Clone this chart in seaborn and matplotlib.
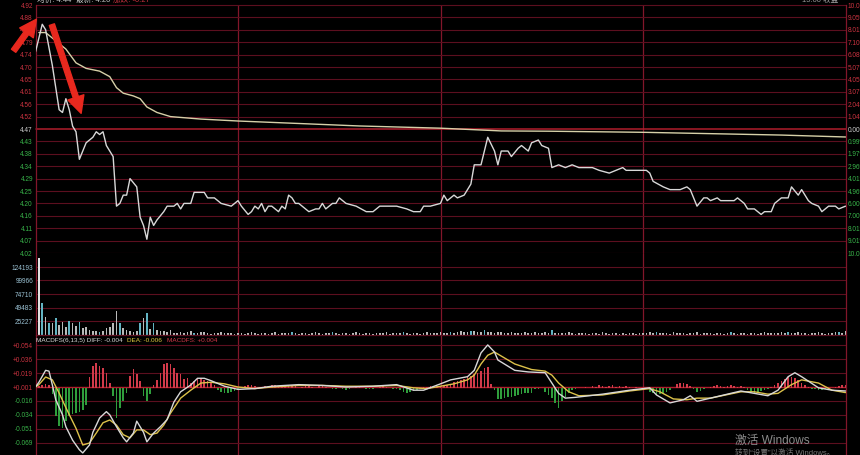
import numpy as np
import matplotlib
matplotlib.use("Agg")
import matplotlib.pyplot as plt
import seaborn as sns

# ---------------- data ----------------
prev_close = 4.47
limit_up = 4.92

# intraday price line (minute index from 9:30, price)
price_min = [0, 2, 3, 5, 7, 8, 9, 10, 11, 12, 13, 15, 17, 18, 19, 20, 21, 23, 24, 25,
             26, 27, 28, 30, 31, 32, 33, 34, 35, 36, 38, 39, 41, 42, 43, 44, 46, 47, 49, 50,
             51, 53, 55, 58, 60, 61, 63, 64, 65, 66, 67, 68, 69, 70, 72, 73, 74, 75, 76, 77,
             78, 81, 83, 84, 85, 86, 88, 89, 90, 92, 95, 98, 100, 102, 105, 107, 110, 112, 114, 115,
             117, 120, 121, 122, 124, 125, 127, 129, 130, 132, 134, 136, 137, 138, 140, 141, 143, 144, 146, 147,
             149, 150, 152, 153, 155, 157, 159, 161, 165, 167, 170, 172, 174, 175, 181, 182, 183, 186, 188, 191,
             193, 194, 196, 198, 199, 200, 202, 203, 207, 208, 210, 211, 213, 214, 215, 216, 218, 219, 221, 223,
             224, 226, 227, 229, 230, 232, 233, 235, 237, 238, 240]
price = [4.75, 4.85, 4.83, 4.70, 4.54, 4.53, 4.58, 4.54, 4.48, 4.46, 4.36, 4.42, 4.44, 4.46, 4.45, 4.46, 4.41, 4.37, 4.19, 4.20,
         4.23, 4.23, 4.29, 4.26, 4.15, 4.12, 4.07, 4.15, 4.12, 4.14, 4.17, 4.19, 4.19, 4.20, 4.18, 4.20, 4.20, 4.24, 4.24, 4.24,
         4.22, 4.22, 4.20, 4.19, 4.21, 4.19, 4.16, 4.17, 4.19, 4.18, 4.20, 4.17, 4.19, 4.19, 4.17, 4.19, 4.18, 4.23, 4.22, 4.20,
         4.20, 4.17, 4.18, 4.18, 4.20, 4.18, 4.20, 4.20, 4.22, 4.20, 4.19, 4.17, 4.17, 4.19, 4.19, 4.19, 4.18, 4.17, 4.17, 4.19,
         4.19, 4.20, 4.23, 4.21, 4.23, 4.22, 4.23, 4.27, 4.34, 4.34, 4.44, 4.39, 4.34, 4.39, 4.39, 4.37, 4.40, 4.41, 4.39, 4.42,
         4.43, 4.41, 4.40, 4.33, 4.34, 4.33, 4.34, 4.33, 4.33, 4.32, 4.31, 4.32, 4.33, 4.32, 4.32, 4.31, 4.28, 4.26, 4.25, 4.25,
         4.26, 4.25, 4.19, 4.22, 4.22, 4.21, 4.22, 4.21, 4.21, 4.22, 4.20, 4.18, 4.18, 4.17, 4.16, 4.17, 4.17, 4.20, 4.22, 4.22,
         4.26, 4.23, 4.25, 4.21, 4.20, 4.19, 4.17, 4.19, 4.19, 4.18, 4.19]

# average price line
avg_min = [1, 3, 6, 9, 12, 15, 19, 22, 24, 26, 29, 31, 33, 36, 40, 45, 49, 60, 96, 120, 138, 152, 180, 221, 240]
avg_price = [4.82, 4.82, 4.79, 4.76, 4.71, 4.69, 4.68, 4.66, 4.62, 4.60, 4.59, 4.58, 4.55, 4.53, 4.515, 4.51, 4.506,
             4.499, 4.481, 4.473, 4.463, 4.462, 4.458, 4.448, 4.441]

price_labels = ["4.92", "4.88", "4.83", "4.79", "4.74", "4.70", "4.65", "4.61", "4.56", "4.52", "4.47",
                "4.43", "4.38", "4.34", "4.29", "4.25", "4.20", "4.16", "4.11", "4.07", "4.02"]
pct_labels = ["10.07%", "9.05%", "8.01%", "7.10%", "6.08%", "5.07%", "4.05%", "3.07%", "2.04%", "1.04%", "0.00%",
              "0.99%", "1.97%", "2.96%", "4.01%", "4.96%", "6.00%", "7.00%", "8.01%", "9.01%", "10.07%"]

# per-minute volume, thousands
volume_k = [36, 141, 58, 33, 22, 22, 31, 18, 23, 14, 25, 22, 16, 23, 12, 14, 9, 7, 7, 5,
            7, 12, 14, 22, 44, 22, 12, 9, 7, 5, 7, 22, 31, 40, 11, 22, 9, 7, 7, 5,
            9, 4, 3, 5, 3, 6, 8, 4, 3, 6, 5, 3, 2, 4, 3, 5, 4, 3, 4, 2,
            3, 4, 2, 3, 5, 3, 2, 4, 3, 2, 3, 5, 2, 3, 4, 3, 6, 3, 2, 3,
            4, 2, 3, 5, 3, 2, 4, 3, 6, 3, 2, 3, 4, 2, 3, 5, 3, 2, 4, 3,
            2, 3, 4, 3, 5, 2, 3, 4, 3, 6, 3, 2, 3, 4, 2, 3, 5, 3, 4, 3,
            5, 4, 3, 6, 4, 5, 7, 5, 6, 8, 7, 6, 5, 9, 6, 5, 4, 6, 5, 4,
            3, 5, 4, 3, 4, 6, 3, 4, 5, 3, 4, 5, 3, 9, 4, 3, 4, 3, 5, 3,
            2, 3, 4, 3, 2, 4, 3, 2, 5, 3, 2, 3, 4, 2, 3, 2, 4, 3, 2, 3,
            4, 3, 5, 4, 6, 3, 4, 3, 2, 5, 3, 4, 3, 2, 4, 3, 5, 2, 3, 4,
            3, 2, 4, 3, 2, 3, 5, 3, 2, 4, 3, 2, 3, 4, 2, 3, 5, 3, 4, 3,
            4, 5, 3, 6, 4, 3, 5, 4, 3, 2, 4, 3, 5, 3, 2, 4, 3, 5, 6, 4,
            8]
teal_minutes = [2, 4, 6, 10, 13, 19, 25, 31, 33, 35, 47, 76, 88, 109, 123, 129, 133, 153, 184, 206, 223, 238]
vol_ticks = [25227, 49483, 74710, 99966, 124193]

# MACD lines
diff_min = [0, 1, 3, 4, 5, 6, 8, 9, 11, 13, 14, 16, 17, 19, 21, 22, 24, 26, 27, 29,
            30, 32, 33, 35, 37, 39, 41, 43, 46, 48, 50, 52, 56, 60, 65, 70, 78, 85, 92, 100,
            107, 112, 115, 120, 123, 128, 130, 132, 134, 136, 137, 142, 146, 151, 153, 155, 157, 160, 168, 176,
            182, 184, 188, 192, 194, 196, 200, 209, 213, 217, 220, 223, 225, 227, 232, 236, 240]
diff_val = [0.001, 0.007, 0.022, 0.021, 0.0035, -0.015, -0.034, -0.049, -0.066, -0.078, -0.082, -0.072, -0.056, -0.038, -0.030, -0.034, -0.049, -0.063, -0.068, -0.057,
            -0.042, -0.056, -0.068, -0.057, -0.049, -0.040, -0.018, -0.005, 0.0035, 0.012, 0.012, 0.009, 0.002, -0.002, -0.001, 0.002, 0.004, 0.003, 0.001, 0.002,
            0.004, -0.003, -0.003, 0.005, 0.010, 0.014, 0.022, 0.044, 0.054, 0.045, 0.035, 0.022, 0.020, 0.019, 0.006, -0.007, -0.013, -0.012, -0.008, -0.003,
            0.000, -0.009, -0.019, -0.015, -0.010, -0.017, -0.013, -0.004, -0.007, -0.010, -0.003, 0.014, 0.019, 0.014, 0.000, -0.003, -0.004]
dea_min = [0, 1, 3, 5, 7, 9, 12, 14, 16, 18, 20, 22, 24, 26, 28, 30, 32, 34, 36, 38,
           40, 43, 46, 49, 52, 56, 60, 65, 70, 78, 85, 92, 100, 107, 112, 116, 120, 124, 128, 130,
           132, 134, 136, 138, 142, 147, 151, 153, 155, 158, 161, 168, 176, 182, 185, 189, 193, 196, 200, 209,
           213, 217, 220, 224, 227, 232, 236, 240]
dea_val = [0.001, 0.004, 0.0136, 0.010, -0.0066, -0.025, -0.051, -0.072, -0.0695, -0.057, -0.044, -0.0405, -0.047, -0.059, -0.063, -0.053, -0.053, -0.059, -0.057, -0.047,
           -0.032, -0.013, -0.003, 0.006, 0.007, 0.005, 0.001, -0.001, 0.001, 0.003, 0.003, 0.002, 0.002, 0.003, 0.000, -0.001, 0.002, 0.005, 0.010, 0.016,
           0.030, 0.041, 0.045, 0.040, 0.030, 0.023, 0.021, 0.016, 0.006, -0.005, -0.010, -0.009, -0.004, -0.001, -0.005, -0.014, -0.015, -0.013, -0.013, -0.005,
           -0.005, -0.008, -0.007, 0.004, 0.010, 0.006, -0.003, -0.006]

# MACD histogram per minute, thousandths
macd_hist_milli = [0, 2, 4, 5, 3, -8, -35, -48, -50, -42, -35, -33, -32, -30, -28, -22, 13, 28, 31, 28,
                   25, 19, 6, -10, -38, -25, -16, -6, 15, 24, 18, 9, -10, -16, -8, 4, 10, 19, 30, 31,
                   30, 25, 19, 17, 11, 12, 6, 9, 11, 12, 10, 8, 6, 3, -3, -5, -6, -6, -5, -4,
                   -2, 0, 2, 3, 3, 2, 0, 1, 2, 0, 3, 4, 2, 1, 3, 4, 3, 2, 0, 1,
                   2, 3, 1, 0, 2, 3, 1, 0, -1, -2, 0, -2, -3, -2, 0, 1, 2, 0, -1, -2,
                   -1, 0, 1, 2, 1, 0, -1, -2, -3, -5, -6, -5, -4, -3, -2, 1, 1, 2, 1, 2,
                   1, 2, 3, 5, 7, 8, 10, 11, 13, 15, 17, 19, 21, 25, 26, 5, -3, -14, -14, -13,
                   -12, -11, -10, -9, -8, -7, -7, -6, -2, -1, 0, -5, -9, -13, -19, -25, -16, -11, -7, -3,
                   -1, 0, 0, 1, 0, 2, 1, 3, 2, 1, 2, 3, 1, 2, 1, 2, 1, 0, 1, 0,
                   -1, -2, -5, -7, -9, -8, -7, -5, -3, 0, 5, 6, 6, 5, 2, -2, -5, -4, -1, 0,
                   1, 2, 3, 2, 1, 2, 3, 2, 1, 2, 1, -3, -5, -6, -5, -4, -3, -1, 1, 3,
                   6, 9, 11, 13, 14, 12, 10, 6, 3, 1, -1, -2, -3, -3, -2, -1, 0, 1, 2, 3,
                   4]
macd_tick_labels = ["+0.054", "+0.036", "+0.019", "+0.001", "-0.016", "-0.034", "-0.051", "-0.069"]
macd_base, macd_step = 0.001, 0.0175

# ---------------- style ----------------
sns.set_theme(style="dark", rc={"axes.facecolor": "black", "figure.facecolor": "black"})
plt.rcParams["font.family"] = ["Liberation Sans", "Noto Sans CJK SC", "DejaVu Sans"]

GRID = "#5c0f1f"
VGRID = "#82162a"
ZERO = "#b01e2c"
RED_TXT = "#cc3340"
GREEN_TXT = "#39b54a"
FS = 4.7

W, H = 860, 455
L, R = 35.5, 845.5


def box(top, bottom):
    return [L / W, 1 - bottom / H, (R - L) / W, (bottom - top) / H]


fig = plt.figure(figsize=(W / 100, H / 100), dpi=100, facecolor="black")
ax_p = fig.add_axes(box(5, 253))
ax_v = fig.add_axes(box(253, 335))
ax_m = fig.add_axes(box(335, 455))

for ax in (ax_p, ax_v, ax_m):
    ax.set_facecolor("black")
    ax.set_xlim(0, 240)
    ax.set_xticks([])
    ax.grid(False)
    for side in ("top", "bottom"):
        ax.spines[side].set_visible(False)
    for side in ("left", "right"):
        ax.spines[side].set_visible(True)
        ax.spines[side].set_color(VGRID)
        ax.spines[side].set_linewidth(0.9)
    ax.tick_params(axis="y", length=0, pad=1.8, labelsize=FS)
    for m in (60, 120, 180):
        ax.axvline(m, color=VGRID, lw=0.9, zorder=0.5)

# ---- price panel ----
step = (limit_up - prev_close) / 10
levels = [prev_close + step * k for k in range(10, -11, -1)]
ax_p.set_ylim(levels[-1], levels[0])
for lv in levels:
    is_zero = abs(lv - prev_close) < 1e-9
    ax_p.axhline(lv, color=ZERO if is_zero else GRID, lw=1.1 if is_zero else 0.8,
                 clip_on=False, zorder=0.6)
ax_p.set_yticks(levels)
ax_p.set_yticklabels(price_labels)
lab_colors = [RED_TXT] * 10 + ["#d0d0d0"] + [GREEN_TXT] * 10
for t, c in zip(ax_p.get_yticklabels(), lab_colors):
    t.set_color(c)

ax_r = ax_p.twinx()
ax_r.set_ylim(ax_p.get_ylim())
ax_r.set_yticks(levels)
ax_r.set_yticklabels(pct_labels)
ax_r.tick_params(axis="y", length=0, pad=1.8, labelsize=FS)
ax_r.grid(False)
for s in ax_r.spines.values():
    s.set_visible(False)
for t, c in zip(ax_r.get_yticklabels(), lab_colors):
    t.set_color(c)

sns.lineplot(x=avg_min, y=avg_price, ax=ax_p, color="#d6d0a8", linewidth=1.0,
             estimator=None, sort=False, legend=False, zorder=3)
sns.lineplot(x=price_min, y=price, ax=ax_p, color="#d8d8d8", linewidth=1.0,
             estimator=None, sort=False, legend=False, zorder=4)
ax_p.set_xlabel("")
ax_p.set_ylabel("")
ax_p.set_xlim(0, 240)

# ---- volume panel ----
minutes = np.arange(len(volume_k))
vol = np.array(volume_k) * 1000
vcols = ["#e2e2e2" if m == 1 else ("#62b3c2" if m in teal_minutes else "#b9b9b9") for m in minutes]
ax_v.set_ylim(0, 150000)
for t in vol_ticks:
    ax_v.axhline(t, color=GRID, lw=0.8, zorder=0.6)
ax_v.bar(minutes, vol, width=0.45, color=vcols, linewidth=0, zorder=3)
ax_v.set_yticks(vol_ticks)
ax_v.set_yticklabels([str(t) for t in vol_ticks])
for t in ax_v.get_yticklabels():
    t.set_color("#9cc3d5")

# ---- MACD panel ----
ax_m.set_ylim(-0.0846, 0.0665)
mticks = [macd_base + macd_step * k for k in range(3, -5, -1)]
for lv in mticks:
    is_zero = abs(lv - macd_base) < 1e-12
    ax_m.axhline(lv, color=ZERO if is_zero else GRID, lw=1.0 if is_zero else 0.8, zorder=0.6)
ax_m.axhline(0.0665, color=GRID, lw=0.9, clip_on=False, zorder=0.6)
ax_m.set_yticks(mticks)
ax_m.set_yticklabels(macd_tick_labels)
for t, lab in zip(ax_m.get_yticklabels(), macd_tick_labels):
    t.set_color(RED_TXT if lab.startswith("+") else GREEN_TXT)

hist = np.array(macd_hist_milli) / 1000.0
hm = np.arange(len(hist))
hcols = ["#d23a4a" if v > 0 else "#2f9e3c" for v in hist]
ax_m.bar(hm, hist, bottom=0, width=0.45, color=hcols, linewidth=0, zorder=2)
sns.lineplot(x=dea_min, y=dea_val, ax=ax_m, color="#dcc24a", linewidth=1.0,
             estimator=None, sort=False, legend=False, zorder=3)
sns.lineplot(x=diff_min, y=diff_val, ax=ax_m, color="#d8d8d8", linewidth=1.0,
             estimator=None, sort=False, legend=False, zorder=4)
ax_m.set_xlabel("")
ax_m.set_ylabel("")
ax_m.set_xlim(0, 240)

# MACD legend row
ty = 1 - 340.5 / H
fig.text(36 / W, ty, "MACDFS(6,13,5) DIFF: -0.004", color="#d8d8d8", fontsize=4.6, va="center")
fig.text(127 / W, ty, "DEA: -0.006", color="#e0cc40", fontsize=4.6, va="center")
fig.text(167 / W, ty, "MACDFS: +0.004", color="#d23a4a", fontsize=4.6, va="center")

# quote header (partly above the frame)
hy = 1 - 0.5 / H
fig.text(37 / W, hy, "均价: 4.44", color="#c8c8c8", fontsize=5.5, va="center")
fig.text(76 / W, hy, "最新: 4.20", color="#c8c8c8", fontsize=5.5, va="center")
fig.text(113 / W, hy, "涨跌: -0.27", color="#cc3340", fontsize=5.5, va="center")
fig.text(838 / W, hy, "15:00 收盘", color="#9a9a9a", fontsize=5.5, va="center", ha="right")

# red annotation arrows
arrow_kw = dict(arrowstyle="simple,head_length=1.1,head_width=1.1,tail_width=0.35",
                color="#e8281e", mutation_scale=11)
fig.add_artist(matplotlib.patches.FancyArrowPatch((12, H - 53), (38, H - 17),
                                                  transform=None, **arrow_kw))
fig.add_artist(matplotlib.patches.FancyArrowPatch((51, H - 22), (82, H - 116),
                                                  transform=None, **arrow_kw))

# system watermark
fig.text(735 / W, 1 - 441 / H, "激活 Windows", color="#8c8c8c", fontsize=8.5, va="center")
fig.text(735 / W, 1 - 453 / H, "转到“设置”以激活 Windows。", color="#777777", fontsize=5.5, va="center")

fig.savefig("out.png", dpi=100, facecolor="black")
